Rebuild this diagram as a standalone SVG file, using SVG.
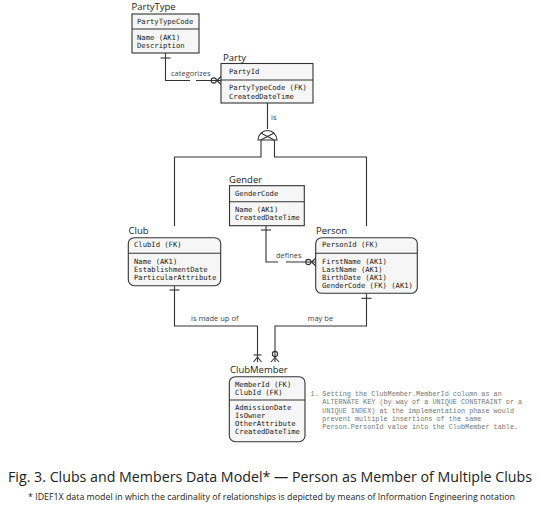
<svg xmlns="http://www.w3.org/2000/svg" width="540" height="507" viewBox="0 0 540 507">
<style>
.box{fill:#f6f6f6;stroke:#333;stroke-width:1.1}
.div{stroke:#333;stroke-width:1.1}
.title{font-family:"Open Sans","DejaVu Sans",sans-serif;font-size:9.5px;fill:#222}
.attr{font-family:"DejaVu Sans Mono","Liberation Mono",monospace;font-size:7.2px;fill:#222}
.lbl{font-family:"Open Sans","DejaVu Sans",sans-serif;font-size:7.5px;fill:#444}
.note{font-family:"Liberation Mono","DejaVu Sans Mono",monospace;font-size:6.8px;fill:#777}
.ln{fill:none;stroke:#333;stroke-width:1.1}
.cap{font-family:"Open Sans","DejaVu Sans",sans-serif;fill:#222}
</style>
<rect width="540" height="507" fill="#fff"/>

<g id="connectors">
  <!-- PartyType -> Party -->
  <path class="ln" d="M165.5,53 V80.5 H190 M196,80.5 H221"/>
  <path class="ln" d="M160.5,58 H170.5"/>
  <circle class="ln" cx="213.8" cy="80.5" r="2.6"/>
  <path class="ln" d="M217,80.5 L221,76.5 M217,80.5 L221,84.5"/>
  <text class="lbl" x="171" y="76">categorizes</text>

  <!-- Party subtype -->
  <path class="ln" d="M267.5,103 V129"/>
  <text class="lbl" x="271" y="120">is</text>
  <path class="ln" d="M258,140 A9.5,9.5 0 0 1 277,140 Z"/>
  <path class="ln" d="M260.8,133 L274.2,140 M274.2,133 L260.8,140"/>
  <path class="ln" d="M261,140 V157 H174.5 V226"/>
  <path class="ln" d="M274.5,140 V157 H366.5 V226"/>

  <!-- Gender -> Person -->
  <path class="ln" d="M266,225.7 V262 H278 M286,262 H316"/>
  <path class="ln" d="M261,230 H271"/>
  <circle class="ln" cx="308.3" cy="262" r="2.6"/>
  <path class="ln" d="M311.5,262 L316,258 M311.5,262 L316,266"/>
  <text class="lbl" x="276" y="258">defines</text>

  <!-- Club -> ClubMember -->
  <path class="ln" d="M174.5,285.7 V326 H257.5 V362"/>
  <path class="ln" d="M169.5,290 H179.5"/>
  <path class="ln" d="M253.5,355 H261.5"/>
  <path class="ln" d="M257.5,357 L253.5,362 M257.5,357 L261.5,362"/>
  <text class="lbl" x="191" y="321">is made up of</text>

  <!-- Person -> ClubMember -->
  <path class="ln" d="M366.5,293.3 V326 H275 V362"/>
  <path class="ln" d="M361.5,298.3 H371.5"/>
  <circle class="ln" cx="275" cy="354" r="2.6"/>
  <path class="ln" d="M275,357.5 L271,362 M275,357.5 L279,362"/>
  <text class="lbl" x="307.5" y="321">may be</text>
</g>

<g id="PartyType">
  <text class="title" x="131.5" y="10">PartyType</text>
  <rect class="box" x="132" y="14" width="67" height="39"/>
  <line class="div" x1="132" y1="29" x2="199" y2="29"/>
  <text class="attr" x="137" y="24">PartyTypeCode</text>
  <text class="attr" x="137" y="39.5">Name (AK1)</text>
  <text class="attr" x="137" y="48">Description</text>
</g>

<g id="Party">
  <text class="title" x="223" y="60.5">Party</text>
  <rect class="box" x="221" y="63.5" width="92" height="39.5"/>
  <line class="div" x1="221" y1="80" x2="313" y2="80"/>
  <text class="attr" x="229" y="73.5">PartyId</text>
  <text class="attr" x="229" y="90">PartyTypeCode (FK)</text>
  <text class="attr" x="229" y="98.5">CreatedDateTime</text>
</g>

<g id="Gender">
  <text class="title" x="229" y="182.5">Gender</text>
  <rect class="box" x="229.5" y="185.7" width="74.8" height="40"/>
  <line class="div" x1="229.5" y1="201.7" x2="304.3" y2="201.7"/>
  <text class="attr" x="235" y="195.5">GenderCode</text>
  <text class="attr" x="235" y="211.5">Name (AK1)</text>
  <text class="attr" x="235" y="220">CreatedDateTime</text>
</g>

<g id="Club">
  <text class="title" x="128.5" y="233.5">Club</text>
  <rect class="box" x="128.3" y="237.7" width="92.4" height="48" rx="6"/>
  <line class="div" x1="128.3" y1="253.3" x2="220.7" y2="253.3"/>
  <text class="attr" x="134" y="247">ClubId (FK)</text>
  <text class="attr" x="134" y="263.5">Name (AK1)</text>
  <text class="attr" x="134" y="271.5">EstablishmentDate</text>
  <text class="attr" x="134" y="279.5">ParticularAttribute</text>
</g>

<g id="Person">
  <text class="title" x="316" y="233.5">Person</text>
  <rect class="box" x="315.7" y="237.7" width="101.6" height="55.6" rx="6"/>
  <line class="div" x1="315.7" y1="253.3" x2="417.3" y2="253.3"/>
  <text class="attr" x="322" y="247">PersonId (FK)</text>
  <text class="attr" x="322" y="263.5">FirstName (AK1)</text>
  <text class="attr" x="322" y="271.5">LastName (AK1)</text>
  <text class="attr" x="322" y="279.5">BirthDate (AK1)</text>
  <text class="attr" x="322" y="287.5">GenderCode (FK) (AK1)</text>
</g>

<g id="ClubMember">
  <text class="title" x="230" y="372.5">ClubMember</text>
  <rect class="box" x="229.3" y="376.7" width="75.7" height="65" rx="6"/>
  <line class="div" x1="229.3" y1="400" x2="305" y2="400"/>
  <text class="attr" x="235" y="386.5">MemberId (FK)</text>
  <text class="attr" x="235" y="394.5">ClubId (FK)</text>
  <text class="attr" x="235" y="410">AdmissionDate</text>
  <text class="attr" x="235" y="418">IsOwner</text>
  <text class="attr" x="235" y="426">OtherAttribute</text>
  <text class="attr" x="235" y="434">CreatedDateTime</text>
</g>

<g id="note">
  <text class="note" x="310.5" y="396">1.</text>
  <text class="note" x="322.3" y="396">Setting the ClubMember.MemberId column as an</text>
  <text class="note" x="322.3" y="404.3">ALTERNATE KEY (by way of a UNIQUE CONSTRAINT or a</text>
  <text class="note" x="322.3" y="412.6">UNIQUE INDEX) at the implementation phase would</text>
  <text class="note" x="322.3" y="420.9">prevent multiple insertions of the same</text>
  <text class="note" x="322.3" y="429.2">Person.PersonId value into the ClubMember table.</text>
</g>

<g id="caption">
  <text class="cap" x="8" y="482" font-size="14" textLength="524" lengthAdjust="spacingAndGlyphs">Fig. 3. Clubs and Members Data Model* — Person as Member of Multiple Clubs</text>
  <text class="cap" x="28" y="500" font-size="8.6" textLength="487" lengthAdjust="spacingAndGlyphs">* IDEF1X data model in which the cardinality of relationships is depicted by means of Information Engineering notation</text>
</g>
</svg>
